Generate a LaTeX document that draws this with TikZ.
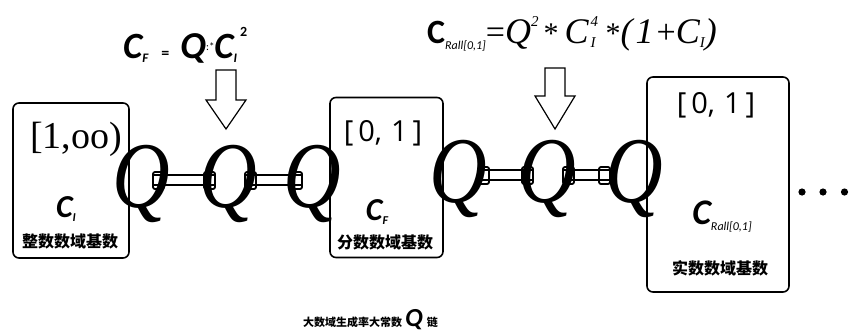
\documentclass[tikz,border=0pt]{standalone}
\usepackage{fontspec}
\setmainfont{Liberation Serif}
\newfontfamily\calfont{Carlito}
\newfontfamily\cjk{Noto Sans CJK SC}
\newfontfamily\sansfont{Open Sans}
\usetikzlibrary{calc}
\newcommand\fs[1]{\fontsize{#1}{#1}\selectfont}
\newcommand\qlink[6]{%
  \draw[linkline] ($(#1.base)+(#3,-32)$) -- ($(#2.base)+(#4,-32)$)
                  ($(#1.base)+(#3,-22)$) -- ($(#2.base)+(#4,-22)$);
  \draw[capline] ($(#1.base)+(#3,-35)$) rectangle ($(#1.base)+(#5,-18)$);
  \draw[capline] ($(#2.base)+(#6,-35)$) rectangle ($(#2.base)+(#4,-18)$);
}
\newcommand\bigQ{\scalebox{0.95}[1.12]{Q}}
\newcommand\zeroone{[\hspace{5pt}0,\hspace{9pt}1\hspace{5pt}]}
\begin{document}
\begin{tikzpicture}[x=1pt,y=-1pt,
  box/.style={draw,line width=1.6pt,rounded corners=6pt,inner sep=0pt},
  bigq/.style={font=\itshape\fs{84},inner sep=0pt,anchor=base},
  linkline/.style={line width=2.4pt},
  capline/.style={line width=1.8pt,rounded corners=2pt},
  openarrow/.style={draw,line width=1.2pt,fill=white,line join=miter},
  lbl/.style={inner sep=0pt},
  cjklbl/.style={inner sep=0pt,font=\cjk\bfseries\fs{16}}
]
\useasboundingbox (0,0) rectangle (850,333);

% boxes
\node[box,minimum width=116pt,minimum height=155pt] (b1) at (71,180.5) {};
\node[box,minimum width=113pt,minimum height=160pt] (b2) at (386.5,177.5) {};
\node[box,minimum width=142pt,minimum height=215pt] (b3) at (718,184.5) {};

% box texts
\node[lbl,anchor=base] (r1) at (76,148) {\fs{38}[1,oo)};
\node[lbl,anchor=base] (r2) at (383,141) {\sansfont\fs{29}\zeroone};
\node[lbl,anchor=base] (r3) at (716,113) {\sansfont\fs{29}\zeroone};

\node[lbl,anchor=base] (ci) at (66,217) {{\calfont\bfseries\itshape\fs{32}C}\raisebox{-4pt}{\calfont\bfseries\itshape\fs{12}I}};
\node[lbl,anchor=base] (cf) at (377,220) {{\calfont\bfseries\itshape\fs{32}C}\raisebox{-4pt}{\calfont\bfseries\itshape\fs{12}F}};
\node[lbl,anchor=base] (cr) at (722,224) {{\calfont\bfseries\itshape\fs{36}C}\raisebox{-6pt}{\calfont\itshape\fs{12}Rall[0,1]}};

\node[cjklbl] (t1) at (70,241) {整数数域基数};
\node[cjklbl] (t2) at (385,242) {分数数域基数};
\node[cjklbl] (t3) at (720,268) {实数数域基数};

% chain 1
\node[bigq] (q1) at (141,207) {\bigQ};
\node[bigq] (q2) at (228,207) {\bigQ};
\node[bigq] (q3) at (312,207) {\bigQ};
% chain 2
\node[bigq] (q4) at (458,202) {\bigQ};
\node[bigq] (q5) at (547,202) {\bigQ};
\node[bigq] (q6) at (634,202) {\bigQ};

\qlink{q1}{q2}{12}{-13}{23}{-24}
\qlink{q2}{q3}{17}{-10}{28}{-21}
\qlink{q4}{q5}{20}{-14}{31}{-25}
\qlink{q5}{q6}{16}{-24}{27}{-35}

% open arrows
\coordinate (a1) at (226,70);
\coordinate (a2) at (555,68);
\draw[openarrow] ($(a1)+(-10,0)$) -- ($(a1)+(10,0)$) -- ($(a1)+(10,30)$) -- ($(a1)+(20,30)$)
   -- ($(a1)+(0,59)$) -- ($(a1)+(-20,30)$) -- ($(a1)+(-10,30)$) -- cycle;
\draw[openarrow] ($(a2)+(-10,0)$) -- ($(a2)+(10,0)$) -- ($(a2)+(10,28)$) -- ($(a2)+(20,28)$)
   -- ($(a2)+(0,61)$) -- ($(a2)+(-20,28)$) -- ($(a2)+(-10,28)$) -- cycle;

% formula 1
\node[lbl,anchor=base west] (f1) at (123,58) {%
  {\calfont\bfseries\itshape\fs{37}C}\raisebox{-4pt}{\calfont\bfseries\itshape\fs{13}F}%
  \hspace{13pt}{\calfont\bfseries\fs{16}=}\hspace{11pt}%
  {\calfont\bfseries\itshape\fs{38}Q}\raisebox{8pt}{\calfont\fs{11}:*}%
  {\calfont\bfseries\itshape\fs{37}C}\raisebox{-4pt}{\calfont\bfseries\itshape\fs{13}I}%
  \hspace{3pt}\raisebox{22pt}{\calfont\bfseries\fs{14}2}};

% formula 2
\node[lbl,anchor=base west] (f2) at (427,43) {%
  {\calfont\bfseries\fs{34}C}\raisebox{-6pt}{\calfont\itshape\fs{12}Rall[0,1]}%
  {\fs{34}=}{\itshape\fs{36}Q}\raisebox{17pt}{\itshape\fs{15}2}%
  \hspace{5pt}{\fs{30}*}\hspace{6pt}%
  {\itshape\fs{36}C}\hspace{2pt}\rlap{\raisebox{17pt}{\itshape\fs{15}4}}\raisebox{-4pt}{\itshape\fs{15}I}%
  \hspace{10pt}{\fs{30}*}{\itshape\fs{36}(\hspace{3pt}1\hspace{3pt}}{\fs{34}+}{\itshape\fs{36}C}\raisebox{-4pt}{\itshape\fs{15}I}{\itshape\fs{36})}};

% dots
\fill (802,192) circle (3.6);
\fill (823,192) circle (3.6);
\fill (844.5,192) circle (3.6);

% caption
\node[lbl,anchor=base west] (cap) at (303,326) {%
  {\cjk\bfseries\fs{11}大数域生成率大常数}\hspace{3pt}%
  {\calfont\bfseries\itshape\fs{26}Q}\hspace{4pt}{\cjk\bfseries\fs{11}链}};
\end{tikzpicture}
\end{document}
